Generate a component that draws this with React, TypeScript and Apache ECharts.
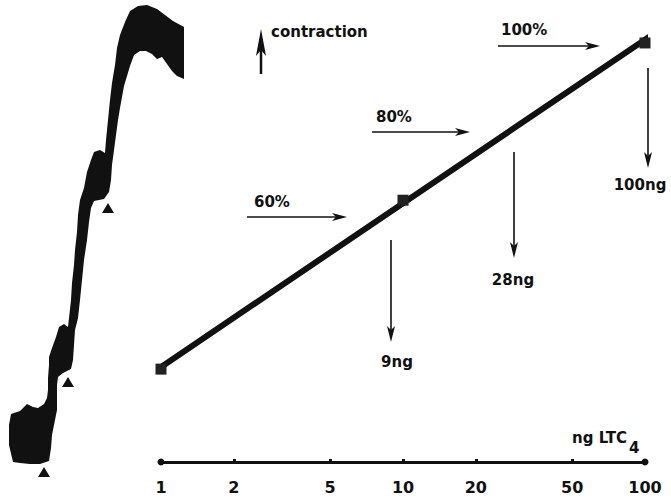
import React, { useEffect, useRef } from "react";
import * as echarts from "echarts";

// Dose axis (ng LTC4, log scale)
const doseTicks = [1, 2, 5, 10, 20, 50, 100];
// Dose-response regression line (dose, % contraction)
const regressionLine: [number, number][] = [
  [0.87, 19.7],
  [113, 99.8],
];
// Measured points (dose, % contraction)
const measuredPoints: [number, number][] = [
  [1, 21.5],
  [10, 60.6],
  [100, 97],
];

// Kymograph trace (time units, tension units; y grows downward)
const traceLeftEdge: [number, number][] = [
  [13, 462], [9, 445], [9, 425], [11, 414], [20, 411], [27, 404], [33, 407], [38, 408],
  [44, 404], [47, 398], [48, 390], [48, 378], [49, 365], [49, 357], [52, 348], [56, 337],
  [59, 327], [64, 324], [68, 327], [69, 318], [71, 300], [72, 283], [74, 265], [75, 250],
  [77, 232], [78, 215], [80, 200], [84, 188], [87, 172], [91, 160], [94, 152], [100, 150],
  [105, 153], [106, 140], [108, 120], [110, 100], [112, 83], [115, 65], [117, 48], [120, 35],
  [125, 22], [130, 11], [138, 6], [147, 5], [157, 9], [165, 15], [173, 21], [184, 27],
];
const traceRightEdge: [number, number][] = [
  [184, 79], [177, 76], [172, 71], [167, 64], [162, 57], [157, 59], [152, 54], [146, 51],
  [140, 51], [134, 55], [130, 66], [127, 76], [124, 86], [122, 97], [120, 108], [118, 120],
  [116, 135], [114, 150], [112, 165], [111, 180], [109, 192], [104, 199], [94, 201], [91, 208],
  [89, 222], [87, 240], [84, 260], [82, 280], [80, 300], [78, 318], [75, 330], [74, 345],
  [73, 360], [71, 369], [63, 373], [58, 377], [57, 385], [57, 400], [57, 410], [55, 420],
  [52, 435], [51, 448], [49, 461], [40, 464], [30, 464], [20, 463],
];
const injectionMarks: [number, number][] = [
  [44, 472],
  [68, 382],
  [108, 208],
];

const INK = "#111";
const FONT = "DejaVu Sans";

function hArrow(x1: number, x2: number, y: number) {
  return [
    { type: "line", shape: { x1, y1: y, x2: x2 - 6, y2: y }, style: { stroke: INK, lineWidth: 1.6 } },
    {
      type: "polygon",
      shape: { points: [[x2, y], [x2 - 15, y - 4], [x2 - 11, y], [x2 - 15, y + 4]] },
      style: { fill: INK },
    },
  ];
}
function vArrow(x: number, y1: number, y2: number) {
  return [
    { type: "line", shape: { x1: x, y1, x2: x, y2: y2 - 6 }, style: { stroke: INK, lineWidth: 1.6 } },
    {
      type: "polygon",
      shape: { points: [[x, y2], [x - 4, y2 - 16], [x, y2 - 12], [x + 4, y2 - 16]] },
      style: { fill: INK },
    },
  ];
}
function label(text: string, x: number, y: number, align = "left", size = 15) {
  return {
    type: "text",
    x,
    y,
    style: {
      text,
      fill: INK,
      fontFamily: FONT,
      fontSize: size,
      fontWeight: "bold",
      textAlign: align,
      textVerticalAlign: "middle",
    },
  };
}

export default function App() {
  const ref = useRef<HTMLDivElement>(null);
  useEffect(() => {
    if (!ref.current) return;
    const chart = echarts.init(ref.current, null, { renderer: "svg" });
    const traceOutline = [...traceLeftEdge, ...traceRightEdge];
    chart.setOption({
      animation: false,
      backgroundColor: "#fff",
      grid: [
        { left: 161, right: 26, top: 30, bottom: 38 },
        { left: 0, top: 0, width: 200, height: 500 },
      ],
      xAxis: [
        {
          type: "log",
          logBase: 10,
          min: 1,
          max: 100,
          gridIndex: 0,
          splitLine: { show: false },
          axisLine: {
            show: true,
            lineStyle: { color: INK, width: 3 },
            symbol: ["circle", "circle"],
            symbolSize: [7, 7],
          },
          axisTick: {
            show: true,
            inside: true,
            length: 3,
            lineStyle: { color: INK, width: 3 },
            customValues: doseTicks,
          },
          minorTick: { show: false },
          axisLabel: {
            show: true,
            color: INK,
            fontFamily: FONT,
            fontSize: 16,
            fontWeight: "bold",
            margin: 17,
            customValues: doseTicks,
            formatter: (v: number) => String(Math.round(v)),
          },
        },
        { type: "value", min: 0, max: 200, gridIndex: 1, show: false },
      ],
      yAxis: [
        { type: "value", min: 0, max: 100, gridIndex: 0, show: false },
        { type: "value", min: 0, max: 500, inverse: true, gridIndex: 1, show: false },
      ],
      series: [
        {
          type: "custom",
          xAxisIndex: 1,
          yAxisIndex: 1,
          data: [[0, 0]],
          silent: true,
          renderItem: (_params: any, api: any) => ({
            type: "polygon",
            shape: { points: traceOutline.map((p) => api.coord(p)) },
            style: { fill: INK },
          }),
        },
        {
          type: "scatter",
          xAxisIndex: 1,
          yAxisIndex: 1,
          symbol: "triangle",
          symbolSize: [12, 10],
          itemStyle: { color: INK, opacity: 1 },
          data: injectionMarks,
        },
        {
          type: "line",
          xAxisIndex: 0,
          yAxisIndex: 0,
          data: regressionLine,
          showSymbol: false,
          clip: false,
          lineStyle: { color: INK, width: 6, cap: "round" },
        },
        {
          type: "scatter",
          xAxisIndex: 0,
          yAxisIndex: 0,
          symbol: "rect",
          symbolSize: 11,
          clip: false,
          itemStyle: { color: "#222", opacity: 1 },
          data: measuredPoints,
          z: 3,
        },
      ],
      graphic: [
        // contraction arrow
        { type: "line", shape: { x1: 261, y1: 74, x2: 261, y2: 45 }, style: { stroke: INK, lineWidth: 2.5 } },
        {
          type: "polygon",
          shape: { points: [[261, 29], [256, 56], [261, 50], [266, 56]] },
          style: { fill: INK },
        },
        label("contraction", 271, 32),
        label("100%", 501, 30),
        ...hArrow(498, 600, 46),
        label("80%", 376, 117),
        ...hArrow(372, 470, 132),
        label("60%", 254, 202),
        ...hArrow(247, 347, 217),
        ...vArrow(391, 240, 342),
        label("9ng", 397, 362, "center"),
        ...vArrow(514, 152, 258),
        label("28ng", 513, 280, "center"),
        ...vArrow(648, 68, 168),
        label("100ng", 640, 185, "center"),
        label("ng LTC", 572, 438),
        label("4", 629, 448),
      ],
    });
    return () => chart.dispose();
  }, []);
  return (
    <div
      ref={ref}
      style={{ position: "absolute", left: 0, top: 0, width: 671, height: 500, background: "#fff" }}
    />
  );
}
